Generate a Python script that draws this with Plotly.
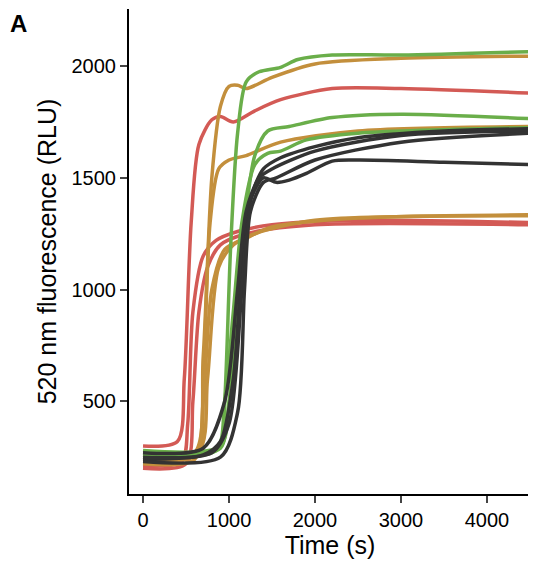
import plotly.graph_objects as go

RED = "#d35a55"; ORANGE = "#c38f3c"; GREEN = "#6aae4a"; BLACK = "#333333"

red1_t = [0,400,480,560,650,800,900,1050,1300,1600,2200,3000,4500]
red1_v = [300,320,600,1300,1650,1760,1775,1750,1800,1850,1900,1900,1880]
red2_t = [0,450,520,580,700,850,1100,1500,2500,4500]
red2_v = [210,230,400,900,1150,1220,1260,1290,1310,1300]
red3_t = [0,500,580,650,750,900,1200,2000,4500]
red3_v = [200,220,500,900,1100,1200,1250,1290,1290]
or1_t = [0,600,700,800,900,1000,1100,1200,1500,2000,3000,4500]
or1_v = [250,270,700,1500,1820,1910,1915,1900,1950,2010,2035,2045]
or2_t = [0,620,700,780,880,1000,1200,1600,2500,4500]
or2_v = [240,260,600,1300,1540,1580,1600,1660,1710,1730]
or3_t = [0,600,700,800,950,1200,1500,2500,4500]
or3_v = [220,240,500,1000,1180,1230,1280,1320,1335]
or4_t = [0,650,750,880,1050,1300,2000,4500]
or4_v = [260,280,600,1100,1200,1250,1310,1330]
gr1_t = [0,900,950,1020,1100,1200,1350,1600,1800,2200,3000,4500]
gr1_v = [270,290,500,1200,1700,1930,1975,1995,2030,2050,2050,2065]
gr2_t = [0,900,1000,1100,1200,1300,1450,1700,2200,3000,4500]
gr2_v = [280,300,500,900,1350,1600,1710,1730,1770,1785,1765]
gr3_t = [0,850,950,1050,1150,1300,1450,1600,1900,2500,4500]
gr3_v = [260,280,500,900,1300,1560,1610,1620,1670,1700,1725]
bk1_t = [0,700,900,1050,1150,1250,1400,1550,1700,1900,2200,2500,3500,4500]
bk1_v = [240,260,320,600,1100,1400,1500,1480,1490,1520,1575,1580,1570,1560]
bk2_t = [0,800,1000,1150,1250,1400,1600,2000,2500,3500,4500]
bk2_v = [250,270,400,1000,1400,1540,1590,1640,1680,1710,1720]
bk3_t = [0,700,950,1100,1200,1350,1500,2000,3000,4500]
bk3_v = [270,290,500,1000,1350,1500,1540,1620,1690,1710]
bk4_t = [0,900,1100,1180,1250,1400,1550,2000,3000,4500]
bk4_v = [230,250,450,1000,1350,1480,1500,1580,1660,1700]

series = [
    (red1_t, red1_v, RED), (red2_t, red2_v, RED), (red3_t, red3_v, RED),
    (or1_t, or1_v, ORANGE), (or2_t, or2_v, ORANGE), (or3_t, or3_v, ORANGE), (or4_t, or4_v, ORANGE),
    (gr1_t, gr1_v, GREEN), (gr2_t, gr2_v, GREEN), (gr3_t, gr3_v, GREEN),
    (bk1_t, bk1_v, BLACK), (bk2_t, bk2_v, BLACK), (bk3_t, bk3_v, BLACK), (bk4_t, bk4_v, BLACK),
]

fig = go.Figure()
for t, v, c in series:
    fig.add_trace(go.Scatter(x=t, y=v, mode="lines", line=dict(color=c, width=3.5, shape="spline", smoothing=0.8),
                             showlegend=False, hoverinfo="skip"))

font = dict(family="Liberation Sans, Arial, sans-serif", color="black")
fig.update_layout(
    width=536, height=580, margin=dict(l=121, r=13, t=1, b=94),
    plot_bgcolor="white", paper_bgcolor="white", font=font,
    xaxis=dict(range=[-163, 4512], tickvals=[0,1000,2000,3000,4000], showgrid=False, zeroline=False,
               showline=True, linecolor="black", linewidth=2, ticks="outside", ticklen=7, tickwidth=1.5,
               tickfont=dict(size=20), title=dict(text="Time (s)", font=dict(size=25), standoff=6),
               automargin=False),
    yaxis=dict(range=[85, 2256], tickvals=[500,1000,1500,2000], showgrid=False, zeroline=False,
               showline=True, linecolor="black", linewidth=2, ticks="outside", ticklen=7, tickwidth=1.5,
               tickfont=dict(size=20), title=dict(text="520 nm fluorescence (RLU)", font=dict(size=25), standoff=8),
               automargin=False),
)
fig.add_annotation(text="<b>A</b>", x=0, y=1, xref="paper", yref="paper", xshift=-121, yshift=1,
                   xanchor="left", yanchor="top", showarrow=False, font=dict(size=24))
fig.write_html("out.html")
